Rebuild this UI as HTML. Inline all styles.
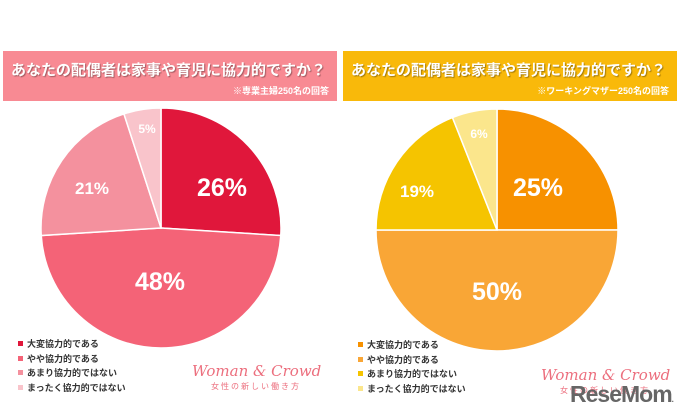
<!DOCTYPE html><html><head><meta charset="utf-8"><style>
body{margin:0;width:680px;height:416px;background:#fff;overflow:hidden;font-family:"Liberation Sans","Noto Sans CJK JP",sans-serif;position:relative}
.bar{position:absolute;top:51px;height:50px;width:334px}
.bar .t{position:absolute;left:8px;top:8px;color:#fff;font-size:15px;font-weight:bold;text-shadow:1px 1px 1px rgba(0,0,0,.35)}
.bar .s{position:absolute;right:8px;top:33px;color:#fff;font-size:9px;font-weight:bold}
.leg{position:absolute;font-size:9px;color:#333;font-weight:bold;line-height:14.5px}
.leg i{display:inline-block;width:5px;height:5px;margin-right:4px;vertical-align:1px}
.wc{position:absolute;font-family:"DejaVu Serif",serif;font-style:italic;color:#ec6f7e;font-size:15px;white-space:nowrap}
.wcs{position:absolute;color:#ec6f7e;font-size:8px;letter-spacing:2px;white-space:nowrap}
</style></head><body>
<div class="bar" style="left:3px;background:#f88a93"><div class="t">あなたの配偶者は家事や育児に協力的ですか？</div><div class="s">※専業主婦250名の回答</div></div>
<div class="bar" style="left:343px;background:#f9b90a"><div class="t">あなたの配偶者は家事や育児に協力的ですか？</div><div class="s">※ワーキングマザー250名の回答</div></div>
<svg id="s" width="680" height="416" style="position:absolute;left:0;top:0"></svg>
<div class="leg" style="left:18px;top:337px"><div><i style="background:#e0173b"></i>大変協力的である</div><div><i style="background:#f46377"></i>やや協力的である</div><div><i style="background:#f4919e"></i>あまり協力的ではない</div><div><i style="background:#f9c4cb"></i>まったく協力的ではない</div></div>
<div class="leg" style="left:358px;top:338px"><div><i style="background:#f79100"></i>大変協力的である</div><div><i style="background:#f9a636"></i>やや協力的である</div><div><i style="background:#f5c400"></i>あまり協力的ではない</div><div><i style="background:#fbe68c"></i>まったく協力的ではない</div></div>
<div class="wc" style="left:192px;top:362px">Woman &amp; Crowd</div>
<div class="wcs" style="left:211px;top:381px">女性の新しい働き方</div>
<div class="wc" style="left:541px;top:366px">Woman &amp; Crowd</div>
<div class="wcs" style="left:560px;top:385px">女性の新しい働き方</div>
<div style="position:absolute;left:570px;top:382px;font-size:23px;font-weight:bold;color:#666;letter-spacing:-1px;line-height:24px;white-space:nowrap">ReseMom<span style="font-size:8px">.</span></div>
<script>
var s=document.getElementById('s'),h='';
function pie(cx,cy,r,d,c){var a=-Math.PI/2;d.forEach(function(v,i){var b=a+v/100*2*Math.PI;h+='<path d="M'+cx+','+cy+'L'+(cx+r*Math.cos(a))+','+(cy+r*Math.sin(a))+'A'+r+','+r+' 0 '+(v>50?1:0)+' 1 '+(cx+r*Math.cos(b))+','+(cy+r*Math.sin(b))+'Z" fill="'+c[i]+'" stroke="#fff" stroke-width="1.5"/>';a=b;});}
pie(161,228,120,[26,48,21,5],['#e0173b','#f46377','#f4919e','#f9c4cb']);
pie(497,230,121,[25,50,19,6],['#f79100','#f9a636','#f5c400','#fbe68c']);
function t(x,y,z,v){h+='<text x="'+x+'" y="'+y+'" font-size="'+z+'" font-weight="bold" fill="#fff" text-anchor="middle" font-family="Liberation Sans,sans-serif">'+v+'</text>';}
t(222,196,25,'26%');t(160,290,25,'48%');t(92,194,17,'21%');t(147,133,12,'5%');
t(538,196,25,'25%');t(497,300,25,'50%');t(417,197,17,'19%');t(479,138,12,'6%');
s.innerHTML=h;
</script>
</body></html>
